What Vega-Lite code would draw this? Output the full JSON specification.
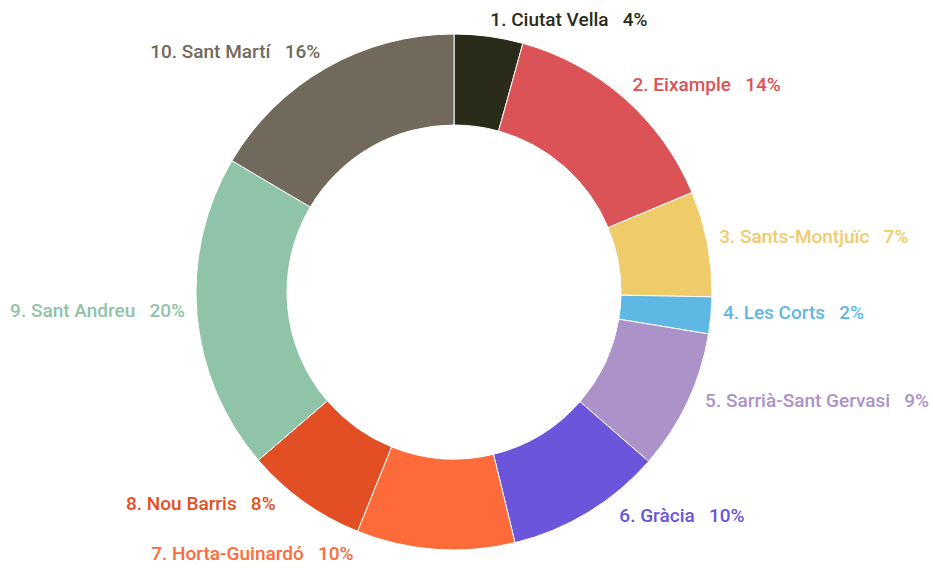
{
  "$schema": "https://vega.github.io/schema/vega-lite/v6.json",
  "width": 908,
  "height": 552,
  "autosize": "none",
  "padding": {"left": 0, "top": 16, "right": 25, "bottom": 0},
  "background": "white",
  "config": {"view": {"stroke": null}},
  "data": {
    "values": [
      {"order": 1, "district": "Ciutat Vella", "value": 4.3, "label": "1. Ciutat Vella\u00a0\u00a0\u00a04%"},
      {"order": 2, "district": "Eixample", "value": 14.4, "label": "2. Eixample\u00a0\u00a0\u00a014%"},
      {"order": 3, "district": "Sants-Montjuïc", "value": 6.6, "label": "3. Sants-Montjuïc\u00a0\u00a0\u00a07%"},
      {"order": 4, "district": "Les Corts", "value": 2.3, "label": "4. Les Corts\u00a0\u00a0\u00a02%"},
      {"order": 5, "district": "Sarrià-Sant Gervasi", "value": 8.8, "label": "5. Sarrià-Sant Gervasi\u00a0\u00a0\u00a09%"},
      {"order": 6, "district": "Gràcia", "value": 9.8, "label": "6. Gràcia\u00a0\u00a0\u00a010%"},
      {"order": 7, "district": "Horta-Guinardó", "value": 9.9, "label": "7. Horta-Guinardó\u00a0\u00a0\u00a010%"},
      {"order": 8, "district": "Nou Barris", "value": 7.6, "label": "8. Nou Barris\u00a0\u00a0\u00a08%"},
      {"order": 9, "district": "Sant Andreu", "value": 19.8, "label": "9. Sant Andreu\u00a0\u00a0\u00a020%"},
      {"order": 10, "district": "Sant Martí", "value": 16.5, "label": "10. Sant Martí\u00a0\u00a0\u00a016%"}
    ]
  },
  "encoding": {
    "theta": {"field": "value", "type": "quantitative", "stack": true},
    "order": {"field": "order", "type": "quantitative"},
    "color": {
      "field": "district",
      "type": "nominal",
      "legend": null,
      "scale": {
        "domain": ["Ciutat Vella", "Eixample", "Sants-Montjuïc", "Les Corts", "Sarrià-Sant Gervasi", "Gràcia", "Horta-Guinardó", "Nou Barris", "Sant Andreu", "Sant Martí"],
        "range": ["#2a2c19", "#dc5357", "#efcb6a", "#5fb8e4", "#ab92c8", "#6b55da", "#fe6b3a", "#e34f24", "#8fc4a8", "#716a5c"]
      }
    }
  },
  "layer": [
    {
      "mark": {"type": "arc", "outerRadius": 258, "innerRadius": 167, "stroke": "white", "strokeWidth": 1}
    },
    {
      "mark": {"type": "text", "radius": 270, "align": "left", "baseline": "middle", "dy": -4, "font": "Roboto", "fontWeight": 500, "fontSize": 19},
      "encoding": {"text": {"condition": {"test": "datum.order <= 4", "field": "label"}, "value": ""}}
    },
    {
      "mark": {"type": "text", "radius": 272, "align": "left", "baseline": "middle", "dy": -7, "dx": 5, "font": "Roboto", "fontWeight": 500, "fontSize": 19},
      "encoding": {"text": {"condition": {"test": "datum.order == 5", "field": "label"}, "value": ""}}
    },
    {
      "mark": {"type": "text", "radius": 270, "align": "left", "baseline": "middle", "dy": -7, "dx": 25, "font": "Roboto", "fontWeight": 500, "fontSize": 19},
      "encoding": {"text": {"condition": {"test": "datum.order == 6", "field": "label"}, "value": ""}}
    },
    {
      "mark": {"type": "text", "radius": 270, "align": "right", "baseline": "middle", "dy": -7, "dx": -81, "font": "Roboto", "fontWeight": 500, "fontSize": 19},
      "encoding": {"text": {"condition": {"test": "datum.order == 7", "field": "label"}, "value": ""}}
    },
    {
      "mark": {"type": "text", "radius": 270, "align": "right", "baseline": "middle", "dy": -7, "dx": -21, "font": "Roboto", "fontWeight": 500, "fontSize": 19},
      "encoding": {"text": {"condition": {"test": "datum.order == 8", "field": "label"}, "value": ""}}
    },
    {
      "mark": {"type": "text", "radius": 270, "align": "right", "baseline": "middle", "dy": -5, "font": "Roboto", "fontWeight": 500, "fontSize": 19},
      "encoding": {"text": {"condition": {"test": "datum.order >= 9", "field": "label"}, "value": ""}}
    }
  ]
}
